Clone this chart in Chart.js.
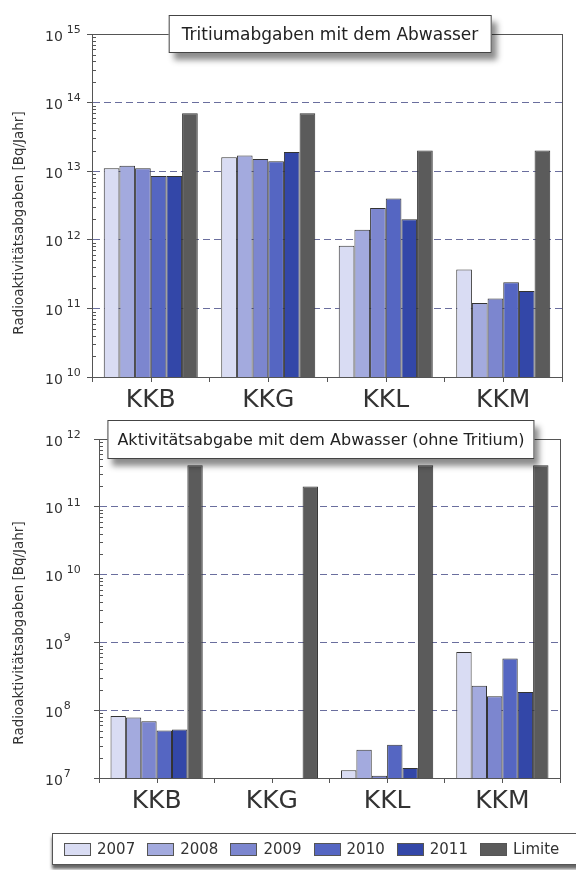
<!DOCTYPE html>
<html>
<head>
<meta charset="utf-8">
<script src="https://cdn.jsdelivr.net/npm/chart.js@4"></script>
<style>
body{margin:0;background:#fff;font-family:"DejaVu Sans",sans-serif;color:#333;}
#wrap{position:relative;width:576px;height:870px;overflow:hidden;}
.box{position:absolute;left:0;width:576px;height:420px;}
.ytitle{position:absolute;left:18px;font-size:13.5px;white-space:nowrap;transform:translate(-50%,-50%) rotate(-90deg);color:#333;}
.title{position:absolute;transform:translateX(-50%);background:#fff;border:1px solid #444;padding:0 9px;font-size:16px;white-space:nowrap;color:#222;box-shadow:5px 7px 6px rgba(0,0,0,0.45);}
#legend{position:absolute;left:52px;top:833px;width:560px;height:30px;background:#fff;border:1px solid #555;box-shadow:0 4px 3px rgba(0,0,0,0.6);display:flex;align-items:center;padding-left:11px;font-size:15px;}
.item{display:flex;align-items:center;margin-right:12px;}
.sw{width:25px;height:11px;border:1px solid #555;margin-right:6px;}
</style>
</head>
<body>
<div id="wrap">
  <div class="box" style="top:0"><canvas id="c1"></canvas></div>
  <div class="box" style="top:410px"><canvas id="c2"></canvas></div>
  <div class="ytitle" style="top:223px">Radioaktivitätsabgaben [Bq/Jahr]</div>
  <div class="ytitle" style="top:633px">Radioaktivitätsabgaben [Bq/Jahr]</div>
  <div class="title" style="left:330px;top:15px;height:36px;line-height:36px;font-size:17px;padding:0 12px">Tritiumabgaben mit dem Abwasser</div>
  <div class="title" style="left:321px;top:420px;height:37px;line-height:37px">Aktivitätsabgabe mit dem Abwasser (ohne Tritium)</div>
  <div id="legend"></div>
</div>
<script>
let categories=['KKB','KKG','KKL','KKM'];
let seriesNames=['2007','2008','2009','2010','2011','Limite'];
let seriesColors=['#d9dcf3','#a3aade','#7c86cf','#5566c2','#3347a8','#5b5b5b'];

// Tritium [Bq/Jahr]
let t2007=[1.1e13,1.6e13,8.2e11,3.7e11];
let t2008=[1.2e13,1.7e13,1.4e12,1.2e11];
let t2009=[1.1e13,1.5e13,2.9e12,1.4e11];
let t2010=[8.5e12,1.4e13,4.0e12,2.4e11];
let t2011=[8.5e12,1.9e13,2.0e12,1.8e11];
let tLimite=[7e13,7e13,2e13,2e13];

// ohne Tritium [Bq/Jahr]
let a2007=[8.2e7,null,1.3e7,7.2e8];
let a2008=[7.8e7,null,2.6e7,2.3e8];
let a2009=[6.9e7,null,1.08e7,1.6e8];
let a2010=[5.0e7,null,3.1e7,5.8e8];
let a2011=[5.2e7,null,1.4e7,1.85e8];
let aLimite=[4.1e11,2e11,4.1e11,4.1e11];

let topExponents=[10,11,12,13,14,15];
let bottomExponents=[7,8,9,10,11,12];

// frame, inner minor ticks, centre ticks on x, and the 10^n labels
let framePlugin={
    id:'frame',
    afterDatasetsDraw(chart){
        let ctx=chart.ctx, a=chart.chartArea;
        let y=chart.scales.y, x=chart.scales.x;
        ctx.save();
        ctx.strokeStyle='#555';
        ctx.lineWidth=1;
        ctx.strokeRect(Math.round(a.left)+0.5,Math.round(a.top)+0.5,Math.round(a.right-a.left),Math.round(a.bottom-a.top));
        ctx.beginPath();
        y.ticks.forEach(t=>{
            if(t.major) return;
            let py=Math.round(y.getPixelForValue(t.value))+0.5;
            ctx.moveTo(a.left,py);
            ctx.lineTo(a.left+4,py);
        });
        categories.forEach((c,i)=>{
            let px=Math.round(x.getPixelForTick(i))+0.5;
            ctx.moveTo(px,a.bottom);
            ctx.lineTo(px,a.bottom+5);
        });
        ctx.stroke();

        // y labels: "10" with raised exponent
        ctx.fillStyle='#333';
        ctx.textBaseline='middle';
        ctx.textAlign='left';
        y.ticks.forEach(t=>{
            if(!t.major) return;
            let e=Math.round(Math.log10(t.value));
            let py=y.getPixelForValue(t.value);
            ctx.font='14px "DejaVu Sans"';
            ctx.fillText('10',45,py+3);
            let w=ctx.measureText('10').width;
            ctx.font='11px "DejaVu Sans"';
            ctx.fillText(String(e),45+w+(e>=10?4:1),py-4);
        });
        ctx.restore();
    }
}

let makeChart=(id,series,exps,pad,yWidth,xHeight)=>{
    let minV=Math.pow(10,exps[0]), maxV=Math.pow(10,exps[exps.length-1]);
    new Chart(document.getElementById(id),{
        type:'bar',
        data:{
            labels:categories,
            datasets:series.map((d,i)=>({
                label:seriesNames[i],
                data:d,
                backgroundColor:seriesColors[i],
                borderColor:'#333',
                borderWidth:1,
                categoryPercentage:0.8,
                barPercentage:1.0
            }))
        },
        options:{
            responsive:true,
            maintainAspectRatio:false,
            animation:false,
            layout:{padding:pad},
            plugins:{legend:{display:false},tooltip:{enabled:false}},
            scales:{
                x:{
                    grid:{offset:true,drawOnChartArea:false,tickLength:5,tickColor:'#555'},
                    border:{color:'#555'},
                    ticks:{color:'#333',padding:3,font:{family:'DejaVu Sans',size:25}},
                    afterFit:(s)=>{s.height=xHeight;}
                },
                y:{
                    type:'logarithmic',
                    min:minV,max:maxV,
                    afterBuildTicks:(s)=>{
                        let ticks=[];
                        exps.forEach((e,k)=>{
                            ticks.push({value:Math.pow(10,e),major:true});
                            if(k<exps.length-1){
                                for(let m=2;m<10;m++) ticks.push({value:m*Math.pow(10,e),major:false});
                            }
                        });
                        s.ticks=ticks;
                    },
                    afterFit:(s)=>{s.width=yWidth;},
                    grid:{
                        tickLength:5,
                        lineWidth:1,
                        color:(c)=>(c.tick&&c.tick.major&&c.tick.value>minV&&c.tick.value<maxV)?'#6a6e9e':'rgba(0,0,0,0)',
                        tickColor:(c)=>(c.tick&&c.tick.major)?'#555':'rgba(0,0,0,0)'
                    },
                    border:{color:'#555',dash:[7,4]},
                    ticks:{display:false,autoSkip:false}
                }
            }
        },
        plugins:[framePlugin]
    });
}

makeChart('c1',[t2007,t2008,t2009,t2010,t2011,tLimite],topExponents,{top:34,left:45,right:14,bottom:0},47,43);
makeChart('c2',[a2007,a2008,a2009,a2010,a2011,aLimite],bottomExponents,{top:29,left:45,right:16,bottom:0},54,52);

// legend
let legend=document.getElementById('legend');
seriesNames.forEach((n,i)=>{
    let it=document.createElement('div');
    it.className='item';
    it.innerHTML='<span class="sw" style="background:'+seriesColors[i]+'"></span><span>'+n+'</span>';
    legend.appendChild(it);
});
</script>
</body>
</html>
